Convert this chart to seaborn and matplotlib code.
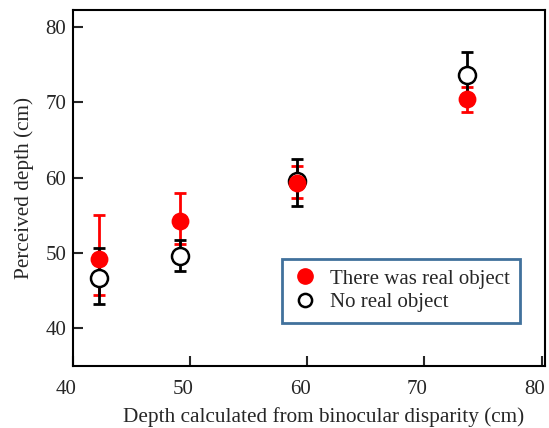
import matplotlib
matplotlib.use("Agg")
import matplotlib.pyplot as plt
import matplotlib.transforms as mtransforms
import seaborn as sns
import pandas as pd
from matplotlib.lines import Line2D

# Data
disparity = [42.2, 49.1, 59.1, 73.6]
real_mean = [49.2, 54.3, 59.3, 70.5]
real_low = [44.4, 51.2, 57.3, 68.7]
real_high = [55.1, 58.0, 61.6, 72.1]
noreal_mean = [46.7, 49.6, 59.6, 73.6]
noreal_low = [43.2, 47.6, 56.3, 70.4]
noreal_high = [50.7, 51.7, 62.5, 76.7]
labels = ["There was real object", "No real object"]
xticks = [40, 50, 60, 70, 80]
yticks = [40, 50, 60, 70, 80]

sns.set_style("ticks")
plt.rcParams['font.family'] = ['Liberation Serif', 'DejaVu Serif']

fig = plt.figure(figsize=(5.49, 4.28), dpi=100)
ax = fig.add_axes([0.133, 0.145, 0.860, 0.832])

df_real = pd.DataFrame({"x": disparity, "y": real_mean})
df_no = pd.DataFrame({"x": disparity, "y": noreal_mean})

ax.errorbar(disparity, real_mean,
            yerr=[[m - l for m, l in zip(real_mean, real_low)],
                  [h - m for m, h in zip(real_mean, real_high)]],
            fmt='none', ecolor='red', elinewidth=2, capsize=4.5, capthick=2, zorder=1)
ax.errorbar(disparity, noreal_mean,
            yerr=[[m - l for m, l in zip(noreal_mean, noreal_low)],
                  [h - m for m, h in zip(noreal_mean, noreal_high)]],
            fmt='none', ecolor='black', elinewidth=2, capsize=4.5, capthick=2, zorder=2)

sns.scatterplot(data=df_no, x="x", y="y", ax=ax, s=150, color='white',
                edgecolor='black', linewidth=1.8, zorder=3)
sns.scatterplot(data=df_real, x="x", y="y", ax=ax, s=165, color='red',
                edgecolor='red', linewidth=0, zorder=4)

ax.set_xlim(40, 80.3)
ax.set_ylim(35, 82.3)
ax.set_xticks(xticks)
ax.set_yticks(yticks)
ax.tick_params(direction='in', length=7, width=1.5, labelsize=15)
ax.tick_params(axis='x', pad=10)
ax.tick_params(axis='y', pad=5)
offset = mtransforms.ScaledTranslation(-7 / 100, 0, fig.dpi_scale_trans)
for lab in ax.get_xticklabels():
    lab.set_transform(lab.get_transform() + offset)
for s in ax.spines.values():
    s.set_linewidth(1.5)
    s.set_color('black')

ax.set_xlabel("Depth calculated from binocular disparity (cm)", fontsize=15.3, labelpad=6)
ax.xaxis.label.set_x(0.53)
ax.set_ylabel("Perceived depth (cm)", fontsize=15.3, labelpad=8)

handles = [
    Line2D([], [], linestyle='none', marker='o', markersize=11,
           markerfacecolor='red', markeredgecolor='red'),
    Line2D([], [], linestyle='none', marker='o', markersize=9.5,
           markerfacecolor='white', markeredgecolor='black', markeredgewidth=1.8),
]
leg = ax.legend(handles, labels, loc='lower left', bbox_to_anchor=(0.443, 0.121),
                fontsize=15, frameon=True, fancybox=False, framealpha=1,
                borderpad=0.5, handletextpad=0.6, labelspacing=0.2,
                handlelength=1.2, borderaxespad=0)
leg.get_frame().set_edgecolor('#41719C')
leg.get_frame().set_linewidth(2)

fig.savefig("out.png", dpi=100)
